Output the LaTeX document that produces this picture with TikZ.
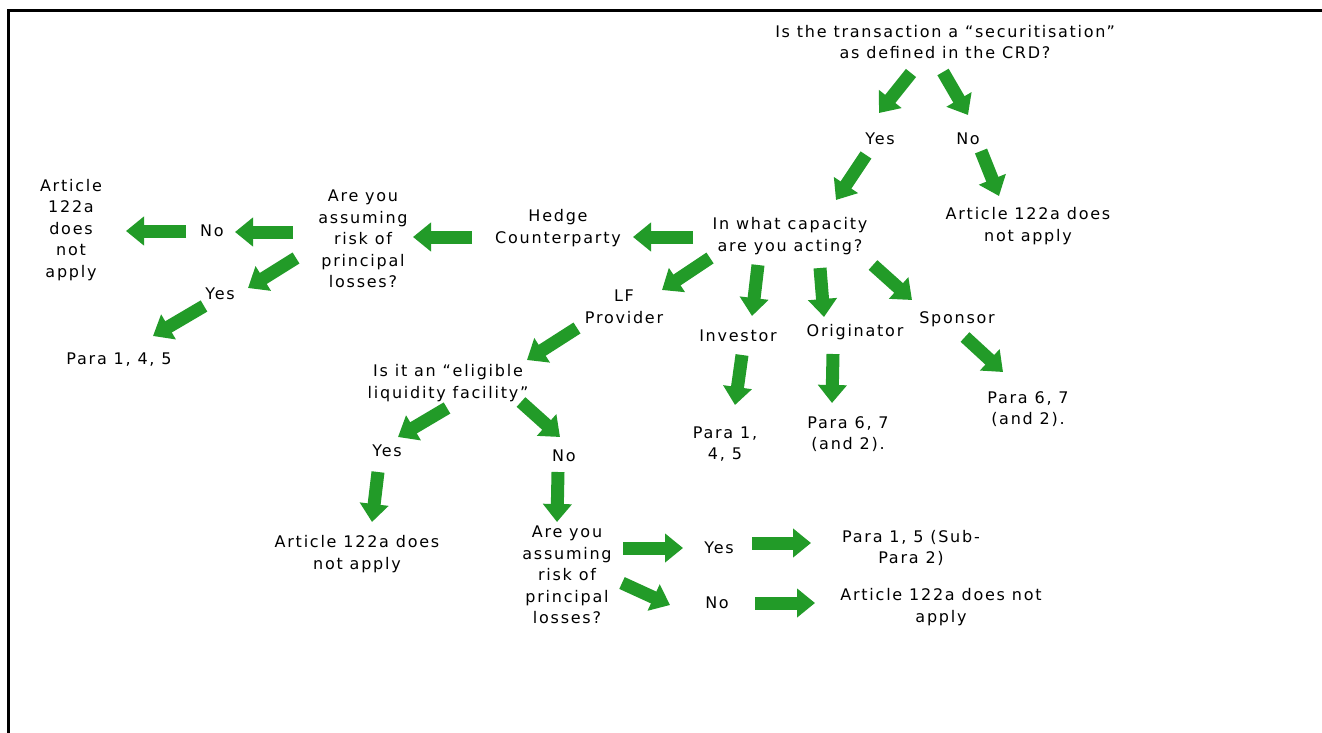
\documentclass[tikz,border=0pt]{standalone}
\usepackage{fontspec}
\setmainfont{DejaVu Sans}[LetterSpace=11]
\usetikzlibrary{arrows.meta,calc}
\definecolor{agreen}{RGB}{34,155,40}
\tikzset{
  lbl/.style={align=center,inner sep=0pt,font=\fontsize{16}{21.5}\selectfont},
  garrow/.style={draw=agreen,line width=13pt,-{Triangle[width=28pt,length=18pt,fill=agreen]}}
}
\begin{document}
\begin{tikzpicture}[x=1pt,y=-1pt]
\useasboundingbox (0,0) rectangle (1322,733);
\fill[white] (0,0) rectangle (1322,733);
\coordinate (fbl) at (8,733);
\coordinate (ftl) at (8,10.5);
\coordinate (ftr) at (1322,10.5);
\draw[line width=3pt] (fbl) -- (ftl) -- (ftr);

\node[lbl] (q1) at (945,42) {Is the transaction a “securitisation”\\as defined in the CRD?};
\node[lbl] (yes1) at (880,139) {Yes};
\node[lbl] (no1) at (968,139) {No};
\node[lbl] (cap) at (790,236) {In what capacity\\are you acting?};
\node[lbl] (na1) at (1028,226) {Article 122a does\\not apply};
\node[lbl] (hedge) at (558,228) {Hedge\\Counterparty};
\node[lbl] (risk1) at (363,239) {Are you\\assuming\\risk of\\principal\\losses?};
\node[lbl] (no2) at (212,231) {No};
\node[lbl] (art2) at (71,230) {Article\\122a\\does\\not\\apply};
\node[lbl] (yes2) at (220,294) {Yes};
\node[lbl] (p145a) at (119,360) {Para 1, 4, 5};
\node[lbl] (lf) at (624,307) {LF\\Provider};
\node[lbl] (inv) at (738,336) {Investor};
\node[lbl] (orig) at (855,332) {Originator};
\node[lbl] (spon) at (957,319) {Sponsor};
\node[lbl] (p67a) at (1028,409) {Para 6, 7\\(and 2).};
\node[lbl] (p145b) at (725,444) {Para 1,\\4, 5};
\node[lbl] (p67b) at (848,434) {Para 6, 7\\(and 2).};
\node[lbl] (elig) at (448,383) {Is it an “eligible\\liquidity facility”};
\node[lbl] (yes3) at (387,451) {Yes};
\node[lbl] (no3) at (564,456) {No};
\node[lbl] (na3) at (357,554) {Article 122a does\\not apply};
\node[lbl] (risk2) at (567,575) {Are you\\assuming\\risk of\\principal\\losses?};
\node[lbl] (yes4) at (719,548) {Yes};
\node[lbl] (p15) at (911,548) {Para 1, 5 (Sub-\\Para 2)};
\node[lbl] (no4) at (717,603) {No};
\node[lbl] (na4) at (941,607) {Article 122a does not\\apply};

\draw[garrow] ($(q1)+(-34,31)$) -- ($(yes1)+(-1,-26)$);
\draw[garrow] ($(q1)+(-2,30)$) -- ($(no1)+(0,-24)$);
\draw[garrow] ($(yes1)+(-14,16)$) -- ($(cap)+(46,-36)$);
\draw[garrow] ($(no1)+(13,12)$) -- ($(na1)+(-29,-30)$);
\draw[garrow] ($(cap)+(-97,1)$) -- ($(hedge)+(75,9)$);
\draw[garrow] ($(hedge)+(-86,9)$) -- ($(risk1)+(50,-2)$);
\draw[garrow] ($(risk1)+(-70,-7)$) -- ($(no2)+(23,1)$);
\draw[garrow] ($(no2)+(-26,0)$) -- ($(art2)+(55,1)$);
\draw[garrow] ($(risk1)+(-67,19)$) -- ($(yes2)+(28,-6)$);
\draw[garrow] ($(yes2)+(-16,12)$) -- ($(p145a)+(34,-24)$);
\draw[garrow] ($(cap)+(-80,22)$) -- ($(lf)+(38,-17)$);
\draw[garrow] ($(cap)+(-32,29)$) -- ($(inv)+(14,-20)$);
\draw[garrow] ($(cap)+(30,32)$) -- ($(orig)+(-31,-15)$);
\draw[garrow] ($(cap)+(83,29)$) -- ($(spon)+(-45,-19)$);
\draw[garrow] ($(spon)+(8,18)$) -- ($(p67a)+(-25,-37)$);
\draw[garrow] ($(inv)+(4,19)$) -- ($(p145b)+(10,-39)$);
\draw[garrow] ($(orig)+(-22,22)$) -- ($(p67b)+(-16,-31)$);
\draw[garrow] ($(lf)+(-47,21)$) -- ($(elig)+(79,-23)$);
\draw[garrow] ($(elig)+(-1,25)$) -- ($(yes3)+(11,-14)$);
\draw[garrow] ($(elig)+(73,19)$) -- ($(no3)+(-4,-19)$);
\draw[garrow] ($(yes3)+(-9,21)$) -- ($(na3)+(15,-32)$);
\draw[garrow] ($(no3)+(-6,16)$) -- ($(risk2)+(-10,-53)$);
\draw[garrow] ($(risk2)+(56,-27)$) -- ($(yes4)+(-36,0)$);
\draw[garrow] ($(yes4)+(33,-5)$) -- ($(p15)+(-100,-5)$);
\draw[garrow] ($(risk2)+(55,8)$) -- ($(no4)+(-47,2)$);
\draw[garrow] ($(no4)+(38,0)$) -- ($(na4)+(-126,-4)$);
\end{tikzpicture}
\end{document}
